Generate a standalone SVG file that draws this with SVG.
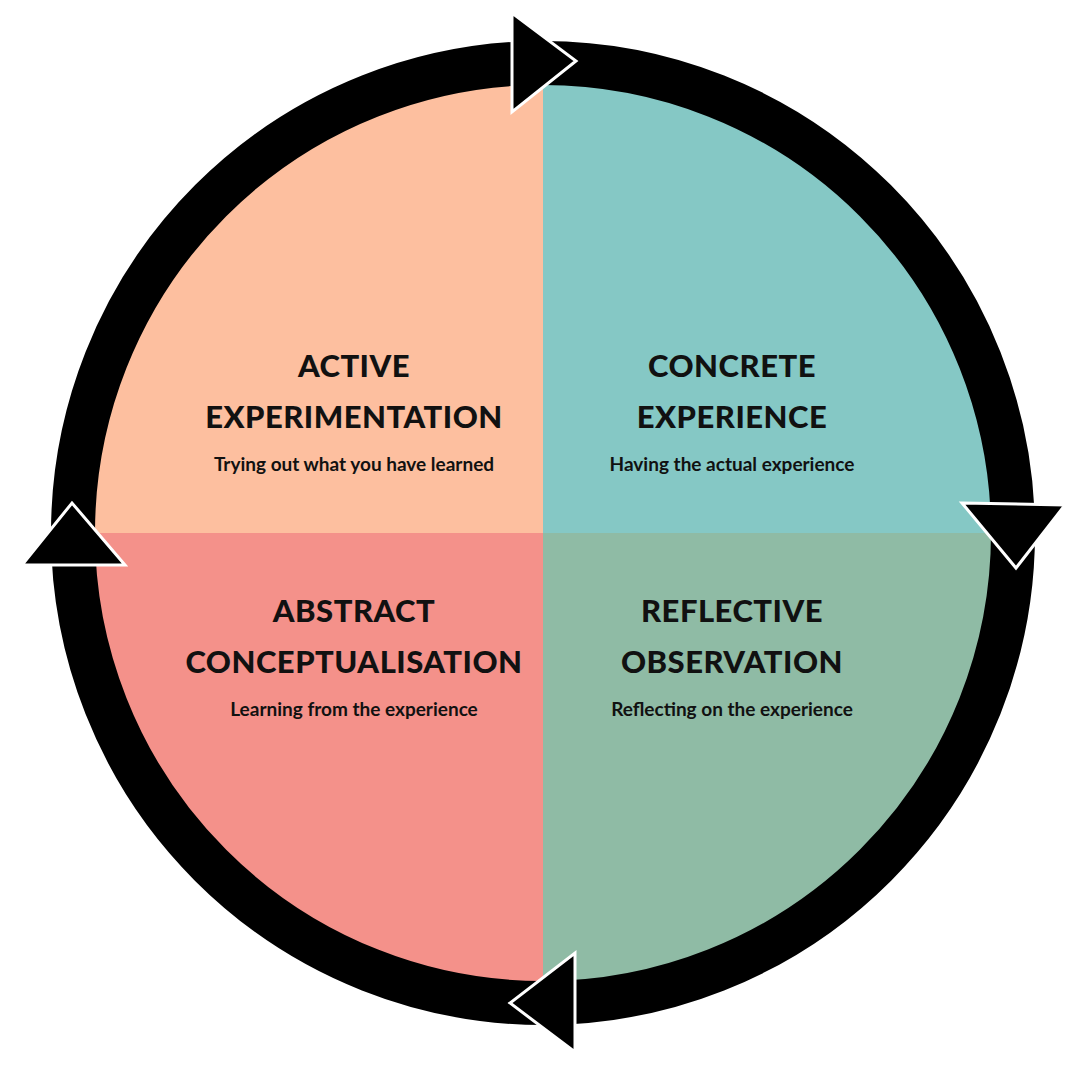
<svg xmlns="http://www.w3.org/2000/svg" width="1080" height="1080" viewBox="0 0 1080 1080">
<style>
.t{font-family:Lato,"Noto Sans",sans-serif;font-weight:900;font-size:31px;fill:#111;text-anchor:middle;letter-spacing:0.5px}
.s{font-family:Lato,"Noto Sans",sans-serif;font-weight:700;font-size:19px;fill:#111;text-anchor:middle}
.h{fill:#000;stroke:#fff;stroke-width:3;stroke-linejoin:miter}
</style>
<defs><clipPath id="c"><circle cx="543" cy="533" r="449"/></clipPath></defs>
<rect width="1080" height="1080" fill="#fff"/>
<g clip-path="url(#c)">
<g id="ae"><rect x="90" y="80" width="453" height="453" fill="#FDBF9F"/></g>
<g id="ce"><rect x="543" y="80" width="453" height="453" fill="#85C8C5"/></g>
<g id="ac"><rect x="90" y="533" width="453" height="453" fill="#F4918A"/></g>
<g id="ro"><rect x="543" y="533" width="453" height="453" fill="#8FBBA5"/></g>
</g>
<g id="connectors">
<circle cx="543" cy="533" r="470" fill="none" stroke="#000" stroke-width="44"/>
<polygon class="h" points="512,13 512,112 576,61"/>
<polygon class="h" points="962,503 1065,505 1016,568"/>
<polygon class="h" points="575,953 575,1052 510,1003"/>
<polygon class="h" points="22,565 125,565 72,503"/>
</g>
<g id="t1"><text class="t" x="354" y="377">ACTIVE</text><text class="t" x="354" y="428">EXPERIMENTATION</text><text class="s" x="354" y="471">Trying out what you have learned</text></g>
<g id="t2"><text class="t" x="732" y="377">CONCRETE</text><text class="t" x="732" y="428">EXPERIENCE</text><text class="s" x="732" y="471">Having the actual experience</text></g>
<g id="t3"><text class="t" x="354" y="622">ABSTRACT</text><text class="t" x="354" y="673">CONCEPTUALISATION</text><text class="s" x="354" y="716">Learning from the experience</text></g>
<g id="t4"><text class="t" x="732" y="622">REFLECTIVE</text><text class="t" x="732" y="673">OBSERVATION</text><text class="s" x="732" y="716">Reflecting on the experience</text></g>
</svg>
